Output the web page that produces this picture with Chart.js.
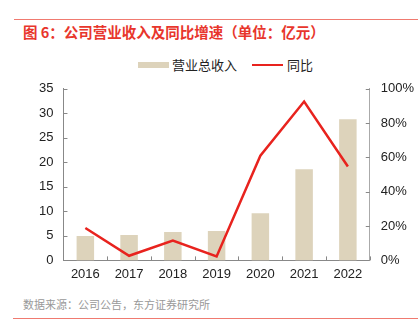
<!DOCTYPE html>
<html>
<head>
<meta charset="utf-8">
<script src="https://cdn.jsdelivr.net/npm/chart.js@4"></script>
<style>
  body { margin: 0; background: #fff; font-family: "Liberation Sans", "Noto Sans CJK SC", sans-serif; }
  .wrap { position: relative; width: 418px; height: 334px; overflow: hidden; }
  .topline { position: absolute; left: 14px; right: 0; top: 19px; height: 1px; background: #f07a70; }
  .title { position: absolute; left: 23px; top: 22px; font-size: 14.5px; line-height: 20px; font-weight: bold; color: #e8362c; font-family: "Noto Sans CJK SC", sans-serif; }
  .legend { position: absolute; top: 56px; left: 0; height: 18px; font-size: 13px; line-height: 18px; color: #222; font-family: "Noto Sans CJK SC", sans-serif; }
  .legend span { position: absolute; white-space: nowrap; }
  .sw { position: absolute; }
  .source { position: absolute; left: 23px; top: 296px; font-size: 11px; color: #999; font-family: "Noto Sans CJK SC", sans-serif; }
  .botline { position: absolute; left: 13px; right: 0; top: 318px; height: 1px; background: #f07a70; }
  .chart { position: absolute; left: 0; top: 70px; width: 425px; height: 218px; }
</style>
</head>
<body>
<div class="wrap">
  <div class="topline"></div>
  <div class="title">图 6：公司营业收入及同比增速（单位：亿元）</div>
  <div class="legend">
    <div class="sw" style="left:138px; top:6px; width:31px; height:6px; background:#ddd3bb;"></div>
    <span style="left:172px; top:0;">营业总收入</span>
    <div class="sw" style="left:252px; top:8px; width:31px; height:2px; background:#e8231e;"></div>
    <span style="left:287px; top:0;">同比</span>
  </div>
  <div class="chart"><canvas id="revenue-chart"></canvas></div>
  <div class="source">数据来源：公司公告，东方证券研究所</div>
  <div class="botline"></div>
</div>
<script>
// data
const years = ['2016', '2017', '2018', '2019', '2020', '2021', '2022'];
const revenue = [5.0, 5.2, 5.8, 6.0, 9.6, 18.6, 28.8];
const growth = [0.189, 0.027, 0.116, 0.023, 0.61, 0.926, 0.547];

// small inward tick marks on the axes
const tickMarks = {
  id: 'tickMarks',
  afterDraw(chart) {
    const ctx = chart.ctx;
    const area = chart.chartArea;
    ctx.save();
    ctx.strokeStyle = '#888';
    ctx.lineWidth = 1;
    ctx.beginPath();
    for (let i = 0; i <= years.length; i++) {
      const px = Math.round(area.left + (area.right - area.left) * i / years.length) + 0.5;
      ctx.moveTo(px, area.bottom);
      ctx.lineTo(px, area.bottom - 4);
    }
    chart.scales.y.ticks.forEach((t, i) => {
      const py = Math.round(chart.scales.y.getPixelForTick(i)) + 0.5;
      ctx.moveTo(area.left, py);
      ctx.lineTo(area.left + 4, py);
    });
    chart.scales.y1.ticks.forEach((t, i) => {
      const py = Math.round(chart.scales.y1.getPixelForTick(i)) + 0.5;
      ctx.moveTo(area.right, py);
      ctx.lineTo(area.right - 4, py);
    });
    ctx.stroke();
    ctx.restore();
  }
};

const ctx = document.getElementById('revenue-chart').getContext('2d');
new Chart(ctx, {
  data: {
    labels: years,
    datasets: [
      {
        type: 'bar',
        label: '营业总收入',
        data: revenue,
        backgroundColor: '#ddd3bb',
        barPercentage: 0.4,
        categoryPercentage: 1,
        yAxisID: 'y',
        order: 2
      },
      {
        type: 'line',
        label: '同比',
        data: growth,
        borderColor: '#e8231e',
        backgroundColor: '#e8231e',
        borderWidth: 2.5,
        pointRadius: 0,
        tension: 0,
        yAxisID: 'y1',
        order: 1
      }
    ]
  },
  options: {
    responsive: true,
    maintainAspectRatio: false,
    animation: false,
    layout: { padding: { left: 29, right: 0, top: 3, bottom: 0 } },
    plugins: {
      tooltip: { enabled: false },
      legend: { display: false }
    },
    scales: {
      x: {
        grid: { display: false, drawTicks: false },
        border: { color: '#888' },
        ticks: { color: '#222', font: { size: 13, family: '"Liberation Sans", sans-serif' }, padding: 6 }
      },
      y: {
        position: 'left',
        min: 0,
        max: 35,
        grid: { display: false, drawTicks: false },
        border: { color: '#888' },
        ticks: { stepSize: 5, color: '#222', font: { size: 13, family: '"Liberation Sans", sans-serif' }, padding: 10 }
      },
      y1: {
        position: 'right',
        min: 0,
        max: 1,
        grid: { display: false, drawTicks: false },
        border: { color: '#aaa' },
        ticks: {
          stepSize: 0.2,
          color: '#222',
          font: { size: 13, family: '"Liberation Sans", sans-serif' },
          padding: 11,
          callback: v => Math.round(v * 100) + '%'
        }
      }
    }
  },
  plugins: [tickMarks]
});
</script>
</body>
</html>
